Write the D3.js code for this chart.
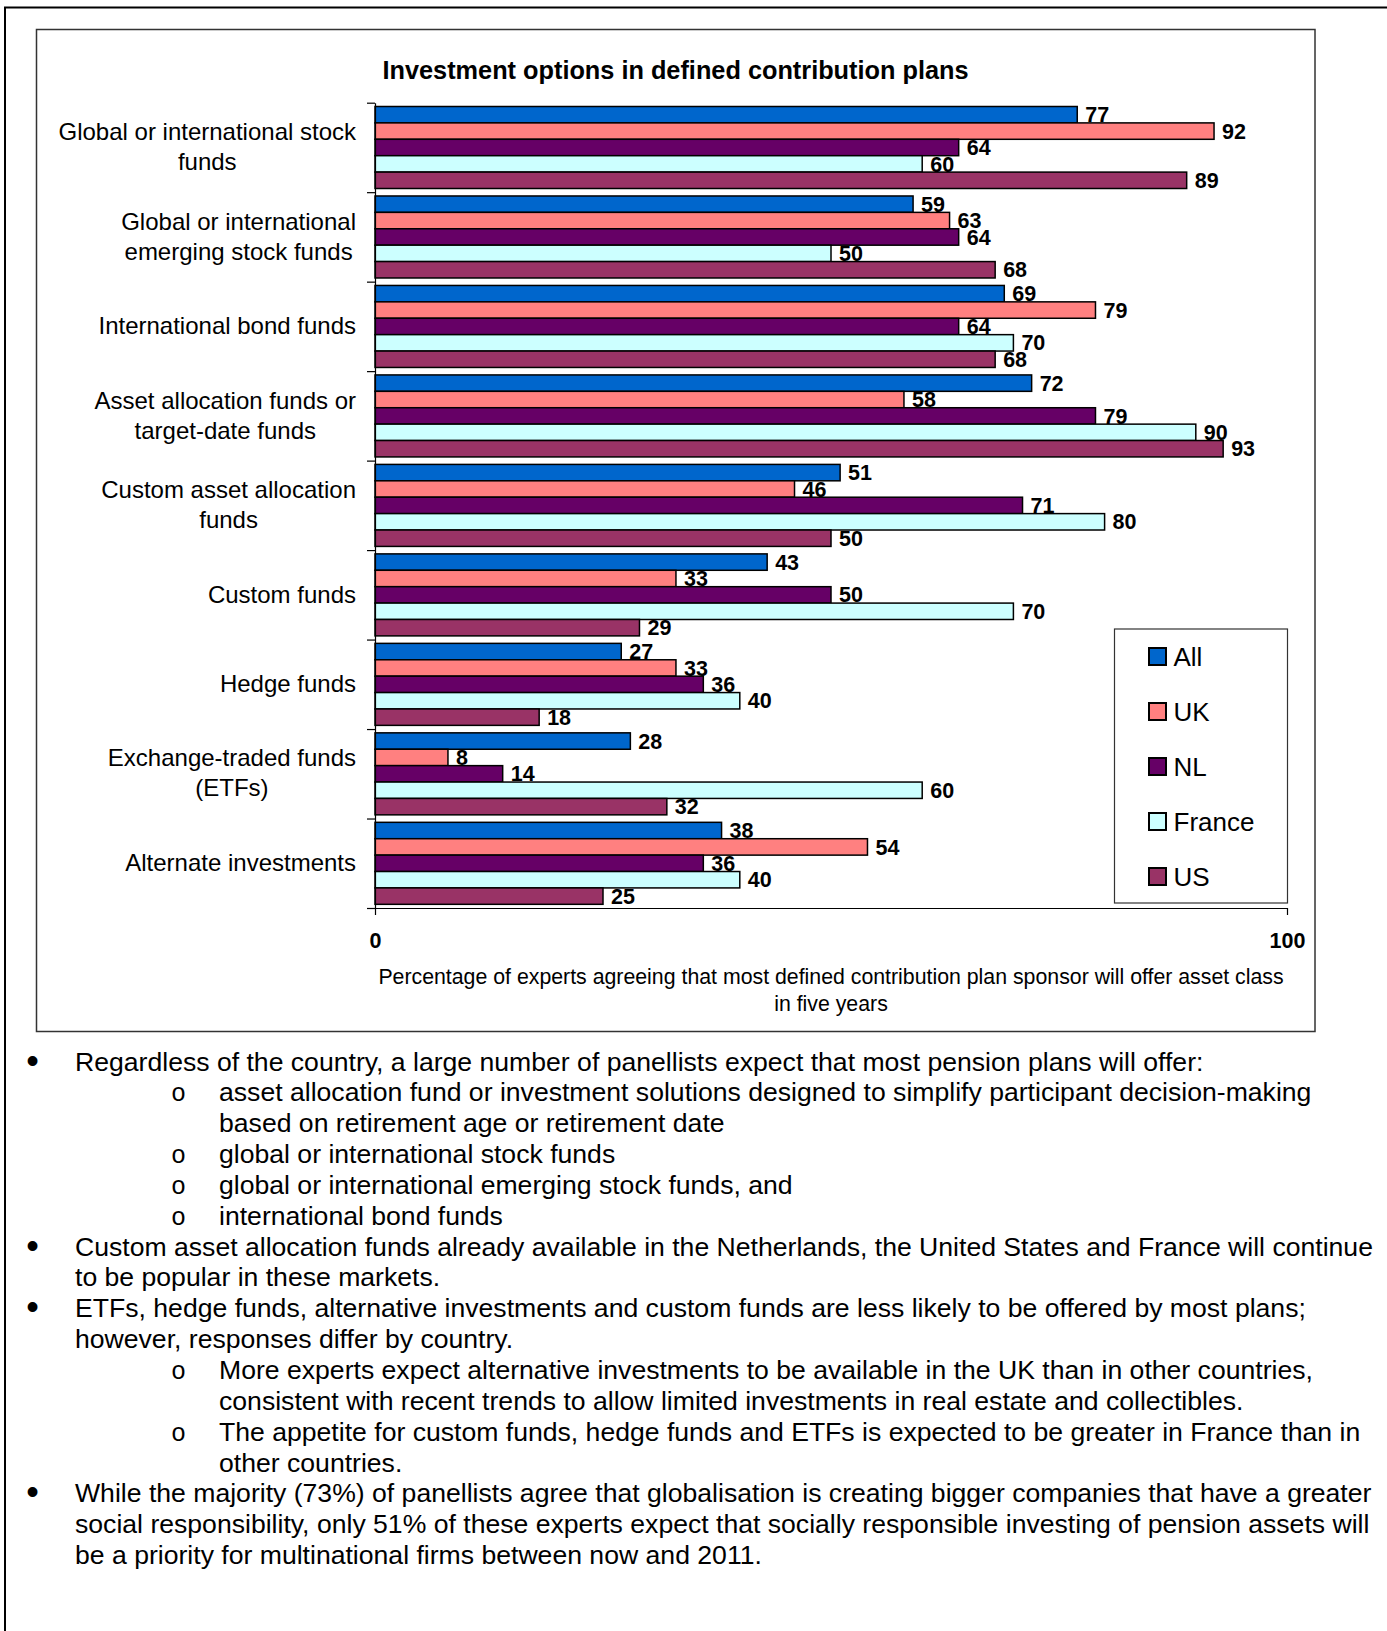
<!DOCTYPE html>
<html><head><meta charset="utf-8">
<script src="https://cdn.jsdelivr.net/npm/d3@7"></script>
<style>
html,body{margin:0;padding:0;background:#fff;}
svg{display:block;font-family:"Liberation Sans",Arial,sans-serif;}
</style></head><body>
<svg id="c" width="1387" height="1631"></svg>
<script>
// ---------- data ----------
const categories = [
  "Global or international stock funds",
  "Global or international emerging stock funds",
  "International bond funds",
  "Asset allocation funds or target-date funds",
  "Custom asset allocation funds",
  "Custom funds",
  "Hedge funds",
  "Exchange-traded funds (ETFs)",
  "Alternate investments"
];
const categoryLines = [
  ["Global or international stock", "funds"],
  ["Global or international", "emerging stock funds"],
  ["International bond funds"],
  ["Asset allocation funds or", "target-date funds"],
  ["Custom asset allocation", "funds"],
  ["Custom funds"],
  ["Hedge funds"],
  ["Exchange-traded funds", "(ETFs)"],
  ["Alternate investments"]
];
const seriesNames = ["All", "UK", "NL", "France", "US"];
const allValues    = [77, 59, 69, 72, 51, 43, 27, 28, 38];
const ukValues     = [92, 63, 79, 58, 46, 33, 33,  8, 54];
const nlValues     = [64, 64, 64, 79, 71, 50, 36, 14, 36];
const franceValues = [60, 50, 70, 90, 80, 70, 40, 60, 40];
const usValues     = [89, 68, 68, 93, 50, 29, 18, 32, 25];
const xTickValues  = [0, 100];
const seriesColors = ["#0066CC", "#FF8080", "#660066", "#CCFFFF", "#993366"];

const chartTitle = "Investment options in defined contribution plans";
const xTitleLines = [
  "Percentage of experts agreeing that most defined contribution plan sponsor will offer asset class",
  "in five years"
];
// body text: [type, text]  type: 0 = bullet line, 1 = bullet continuation, 2 = sub bullet, 3 = sub continuation
const bodyLines = [
  [0, "Regardless of the country, a large number of panellists expect that most pension plans will offer:"],
  [2, "asset allocation fund or investment solutions designed to simplify participant decision-making"],
  [3, "based on retirement age or retirement date"],
  [2, "global or international stock funds"],
  [2, "global or international emerging stock funds, and"],
  [2, "international bond funds"],
  [0, "Custom asset allocation funds already available in the Netherlands, the United States and France will continue"],
  [1, "to be popular in these markets."],
  [0, "ETFs, hedge funds, alternative investments and custom funds are less likely to be offered by most plans;"],
  [1, "however, responses differ by country."],
  [2, "More experts expect alternative investments to be available in the UK than in other countries,"],
  [3, "consistent with recent trends to allow limited investments in real estate and collectibles."],
  [2, "The appetite for custom funds, hedge funds and ETFs is expected to be greater in France than in"],
  [3, "other countries."],
  [0, "While the majority (73%) of panellists agree that globalisation is creating bigger companies that have a greater"],
  [1, "social responsibility, only 51% of these experts expect that socially responsible investing of pension assets will"],
  [1, "be a priority for multinational firms between now and 2011."]
];

const seriesValues = [allValues, ukValues, nlValues, franceValues, usValues];

// ---------- drawing ----------
const svg = d3.select("#c");

// page border
svg.append("rect").attr("x", 5).attr("y", 7.5).attr("width", 2000).attr("height", 2000)
  .attr("fill", "none").attr("stroke", "#000").attr("stroke-width", 2);

// chart box
svg.append("rect").attr("x", 36.5).attr("y", 29.5).attr("width", 1278.5).attr("height", 1002)
  .attr("fill", "#fff").attr("stroke", "#333").attr("stroke-width", 1.5);

// title
svg.append("text").attr("x", 675.5).attr("y", 79).attr("text-anchor", "middle")
  .attr("font-size", 25.3).attr("font-weight", "bold").attr("fill", "#000").text(chartTitle);

const x = d3.scaleLinear().domain([0, 100]).range([375, 1287]);
const y0 = d3.scaleBand().domain(categories).range([102.7, 908]).paddingInner(0).paddingOuter(0);
const y1 = d3.scaleBand().domain(seriesNames).range([3.8, 85.8]);
const yIdx = d3.scaleLinear().domain([0, categories.length]).range([102.7, 908]);

// labels (drawn first so bars overlay)
const gLab = svg.append("g");
// bars
const gBars = svg.append("g");
categories.forEach((c, ci) => {
  seriesNames.forEach((s, si) => {
    const v = seriesValues[si][ci];
    const yy = y0(c) + y1(s);
    gBars.append("rect")
      .attr("x", x(0)).attr("y", yy)
      .attr("width", x(v) - x(0)).attr("height", y1.bandwidth())
      .attr("fill", seriesColors[si]).attr("stroke", "#000").attr("stroke-width", 1.5);
    gLab.append("text")
      .attr("x", x(v) + 8).attr("y", yy + y1.bandwidth() / 2 + 7.6)
      .attr("font-size", 21.5).attr("font-weight", "bold").attr("fill", "#000")
      .text(v);
  });
});

// y axis with ticks at band boundaries
const yAxis = d3.axisLeft(yIdx).tickValues(d3.range(categories.length + 1))
  .tickSize(8).tickSizeOuter(0).tickFormat("");
const gy = svg.append("g").attr("transform", "translate(375,0)").call(yAxis);
gy.selectAll("path,line").attr("stroke", "#000").attr("stroke-width", 1.2);

// x axis
const xAxis = d3.axisBottom(x).tickValues(xTickValues).tickSize(7).tickSizeOuter(0);
const gx = svg.append("g").attr("transform", "translate(0,908)").call(xAxis);
gx.selectAll("path,line").attr("stroke", "#000").attr("stroke-width", 1.2);
gx.selectAll("text").attr("y", 39.5).attr("dy", 0)
  .attr("font-size", 21.5).attr("font-weight", "bold").attr("fill", "#000")
  .attr("font-family", "Liberation Sans, Arial, sans-serif");

// category labels
const gCat = svg.append("g");
categoryLines.forEach((lines, ci) => {
  const cy = y0(categories[ci]) + y0.bandwidth() / 2;
  const texts = lines.map((ln, li) => gCat.append("text")
    .attr("y", cy + 7.7 + (li - (lines.length - 1) / 2) * 30)
    .attr("font-size", 24).attr("fill", "#000").attr("text-anchor", "middle").text(ln));
  const maxW = d3.max(texts, t => t.node().getComputedTextLength());
  texts.forEach(t => t.attr("x", 356 - maxW / 2));
});

// x title
xTitleLines.forEach((ln, i) => {
  svg.append("text").attr("x", (x(0) + x(100)) / 2).attr("y", 984 + i * 27)
    .attr("text-anchor", "middle").attr("font-size", 21.3).attr("fill", "#000").text(ln);
});

// legend
const lg = svg.append("g");
lg.append("rect").attr("x", 1114.5).attr("y", 629).attr("width", 173).attr("height", 274)
  .attr("fill", "#fff").attr("stroke", "#333").attr("stroke-width", 1.2);
seriesNames.forEach((s, i) => {
  lg.append("rect").attr("x", 1149).attr("y", 648 + i * 55).attr("width", 17).attr("height", 17)
    .attr("fill", seriesColors[i]).attr("stroke", "#000").attr("stroke-width", 2);
  lg.append("text").attr("x", 1173.5).attr("y", 666 + i * 55)
    .attr("font-size", 26).attr("fill", "#000").text(s);
});

// body text
const gBody = svg.append("g").attr("font-size", 26.6).attr("fill", "#000");
bodyLines.forEach(([type, txt], i) => {
  const by = 1070.5 + i * 30.85;
  if (type === 0) {
    gBody.append("text").attr("x", 32.5).attr("y", by + 2).attr("text-anchor", "middle")
      .attr("font-size", 36).text("\u2022");
  }
  if (type === 2) {
    gBody.append("text").attr("x", 178.5).attr("y", by).attr("text-anchor", "middle")
      .attr("font-family", "Liberation Mono, Courier New, monospace").attr("font-size", 25).text("o");
  }
  const tx = (type <= 1) ? 75 : 219;
  gBody.append("text").attr("x", tx).attr("y", by).text(txt);
});
</script>
</body></html>
